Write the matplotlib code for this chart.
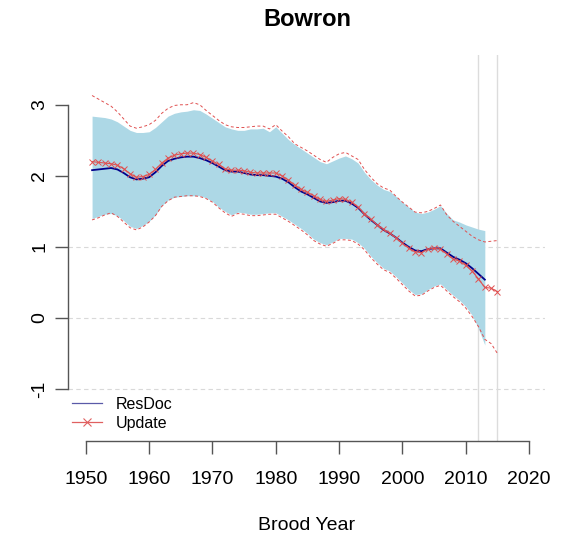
import numpy as np
import matplotlib.pyplot as plt
from matplotlib.lines import Line2D

plt.rcParams['font.family'] = ['Liberation Sans', 'DejaVu Sans']
plt.rcParams['axes.unicode_minus'] = False

# ResDoc series (1951-2013)
years_resdoc = np.arange(1951, 2014)
resdoc_med = [2.08, 2.09, 2.10, 2.11, 2.09, 2.04, 1.98, 1.95, 1.96, 1.98,
              2.05, 2.14, 2.21, 2.24, 2.26, 2.27, 2.27, 2.25, 2.22, 2.18,
              2.13, 2.08, 2.06, 2.06, 2.04, 2.02, 2.01, 2.01, 2.00, 1.99,
              1.96, 1.91, 1.84, 1.78, 1.74, 1.69, 1.64, 1.62, 1.63, 1.65,
              1.65, 1.61, 1.55, 1.46, 1.38, 1.31, 1.24, 1.19, 1.13, 1.06,
              1.00, 0.95, 0.94, 0.97, 0.98, 0.98, 0.92, 0.86, 0.82, 0.77,
              0.70, 0.62, 0.54]
resdoc_hi = [2.84, 2.83, 2.82, 2.80, 2.76, 2.70, 2.64, 2.61, 2.61, 2.62,
             2.68, 2.76, 2.84, 2.88, 2.90, 2.91, 2.93, 2.92, 2.87, 2.81,
             2.75, 2.69, 2.66, 2.64, 2.64, 2.66, 2.66, 2.67, 2.62, 2.69,
             2.60, 2.51, 2.44, 2.38, 2.32, 2.26, 2.20, 2.17, 2.21, 2.25,
             2.28, 2.24, 2.18, 2.05, 1.95, 1.87, 1.81, 1.78, 1.71, 1.63,
             1.56, 1.49, 1.47, 1.49, 1.53, 1.58, 1.47, 1.38, 1.35, 1.31,
             1.28, 1.25, 1.23]
resdoc_lo = [1.40, 1.43, 1.46, 1.47, 1.44, 1.37, 1.29, 1.26, 1.30, 1.36,
             1.45, 1.58, 1.66, 1.70, 1.71, 1.72, 1.72, 1.72, 1.69, 1.64,
             1.56, 1.50, 1.45, 1.49, 1.48, 1.46, 1.46, 1.47, 1.48, 1.48,
             1.43, 1.38, 1.32, 1.26, 1.19, 1.11, 1.06, 1.03, 1.07, 1.12,
             1.12, 1.11, 1.06, 0.98, 0.87, 0.78, 0.70, 0.66, 0.58, 0.49,
             0.40, 0.33, 0.34, 0.40, 0.45, 0.48, 0.40, 0.32, 0.25, 0.16,
             0.04, -0.15, -0.38]

# Update series (1951-2015)
years_update = np.arange(1951, 2016)
update_med = [2.20, 2.19, 2.18, 2.17, 2.15, 2.10, 2.03, 1.98, 1.99, 2.02,
              2.09, 2.18, 2.25, 2.29, 2.31, 2.32, 2.32, 2.30, 2.26, 2.21,
              2.16, 2.10, 2.08, 2.08, 2.07, 2.05, 2.04, 2.04, 2.04, 2.04,
              2.00, 1.94, 1.87, 1.81, 1.77, 1.72, 1.67, 1.64, 1.66, 1.68,
              1.67, 1.63, 1.56, 1.47, 1.39, 1.31, 1.25, 1.19, 1.13, 1.05,
              0.98, 0.93, 0.92, 0.97, 0.98, 0.97, 0.90, 0.83, 0.80, 0.74,
              0.66, 0.55, 0.43, 0.42, 0.37]
update_hi = [3.13, 3.08, 3.03, 2.98, 2.90, 2.80, 2.70, 2.67, 2.69, 2.72,
             2.78, 2.88, 2.95, 2.99, 3.00, 3.00, 3.03, 3.00, 2.92, 2.85,
             2.78, 2.72, 2.69, 2.68, 2.68, 2.69, 2.70, 2.70, 2.66, 2.72,
             2.63, 2.55, 2.45, 2.40, 2.35, 2.29, 2.23, 2.19, 2.26, 2.31,
             2.33, 2.28, 2.23, 2.09, 1.98, 1.89, 1.83, 1.80, 1.71, 1.63,
             1.56, 1.49, 1.48, 1.50, 1.54, 1.59, 1.45, 1.36, 1.29, 1.22,
             1.15, 1.10, 1.07, 1.08, 1.09]
update_lo = [1.38, 1.41, 1.45, 1.48, 1.43, 1.35, 1.27, 1.24, 1.28, 1.35,
             1.44, 1.57, 1.65, 1.70, 1.71, 1.72, 1.72, 1.71, 1.68, 1.63,
             1.55, 1.48, 1.43, 1.47, 1.46, 1.44, 1.44, 1.45, 1.46, 1.46,
             1.41, 1.36, 1.30, 1.24, 1.17, 1.09, 1.04, 1.01, 1.05, 1.10,
             1.10, 1.09, 1.04, 0.96, 0.85, 0.76, 0.68, 0.64, 0.56, 0.47,
             0.38, 0.31, 0.32, 0.38, 0.43, 0.46, 0.38, 0.30, 0.23, 0.14,
             0.02, -0.12, -0.30, -0.36, -0.50]

ref_lines = [-1, 0, 1]
vlines = [2012, 2015]
xticks = np.arange(1950, 2030, 10)
yticks = [-1, 0, 1, 2, 3]

fig = plt.figure(figsize=(5.61, 5.38), dpi=100)
ax = fig.add_axes([68/561, 1-441/538, (545-68)/561, (441-55)/538])
ax.set_xlim(1947.2, 2022.5)
ax.set_ylim(-1.73, 3.70)

for h in ref_lines:
    ax.axhline(h, color='#d9d9d9', lw=0.8, ls=(0, (4, 3)), zorder=0)

ax.fill_between(years_resdoc, resdoc_lo, resdoc_hi, color='lightblue', lw=0, zorder=1)
ax.plot(years_resdoc, resdoc_med, color='darkblue', lw=1.3, zorder=3)
ax.plot(years_update, update_med, color='#e05050', lw=0.8, marker='x', ms=4.2, mew=0.7, zorder=4)
ax.plot(years_update, update_hi, color='#e05050', lw=0.7, ls=(0, (3, 2.5)), zorder=2)
ax.plot(years_update, update_lo, color='#e05050', lw=0.7, ls=(0, (3, 2.5)), zorder=2)

for v in vlines:
    ax.axvline(v, color='#dcdcdc', lw=1.0, zorder=0)

for s in ['top', 'right']:
    ax.spines[s].set_visible(False)
ax.spines['left'].set_bounds(-1, 3)
ax.spines['bottom'].set_bounds(1950, 2020)
for s in ['left', 'bottom']:
    ax.spines[s].set_color('#555555')
    ax.spines[s].set_linewidth(1.0)

ax.set_xticks(xticks)
ax.set_yticks(yticks)
ax.tick_params(axis='both', length=9.4, width=1.0, color='#555555', labelsize=14)
ax.tick_params(axis='x', pad=12.5)
ax.tick_params(axis='y', pad=5)
for lab in ax.get_yticklabels():
    lab.set_rotation(90)
    lab.set_va('center')

fig.text(307/561, 1-20/538, 'Bowron', ha='center', va='center', fontsize=17, fontweight='bold')
fig.text(307/561, 1-525/538, 'Brood Year', ha='center', va='center', fontsize=14)

handles = [Line2D([], [], color='#5a5aa8', lw=0.9),
           Line2D([], [], color='#e06060', lw=0.9, marker='x', ms=6, mew=0.8)]
ax.legend(handles, ['ResDoc', 'Update'], loc='upper left',
          bbox_to_anchor=(72/561, 1-397/538), bbox_transform=fig.transFigure,
          frameon=False, fontsize=11.5, handlelength=1.9, handletextpad=0.85,
          borderpad=0, borderaxespad=0, labelspacing=0.25, numpoints=1)

fig.savefig('out.png', dpi=100)
